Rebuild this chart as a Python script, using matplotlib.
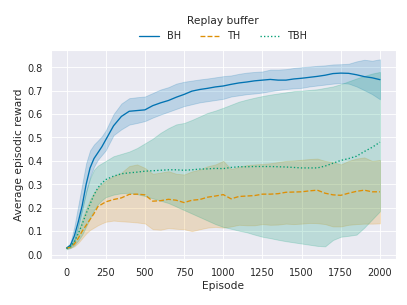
import numpy as np
import matplotlib
matplotlib.use('Agg')
import matplotlib.pyplot as plt
import seaborn as sns

episodes = [0, 25, 50, 75, 100, 125, 150, 175, 200, 225, 250, 300, 350, 400, 450, 500,
            550, 600, 650, 700, 750, 800, 850, 900, 950, 1000, 1050, 1100, 1150, 1200,
            1250, 1300, 1350, 1400, 1450, 1500, 1550, 1600, 1650, 1700, 1750, 1800,
            1850, 1900, 1950, 2000]

bh_mean = [0.028, 0.04, 0.08, 0.14, 0.21, 0.30, 0.37, 0.41, 0.435, 0.46, 0.49, 0.55, 0.59,
           0.612, 0.615, 0.618, 0.636, 0.648, 0.658, 0.672, 0.684, 0.698, 0.705, 0.71,
           0.716, 0.72, 0.727, 0.733, 0.737, 0.742, 0.745, 0.748, 0.745, 0.745, 0.75,
           0.753, 0.757, 0.761, 0.766, 0.773, 0.775, 0.774, 0.768, 0.76, 0.755, 0.747]
bh_upper = [0.03, 0.05, 0.12, 0.21, 0.30, 0.39, 0.445, 0.47, 0.487, 0.505, 0.53, 0.60, 0.645,
            0.668, 0.672, 0.675, 0.69, 0.705, 0.715, 0.73, 0.738, 0.743, 0.748, 0.752,
            0.757, 0.762, 0.765, 0.772, 0.777, 0.78, 0.782, 0.79, 0.79, 0.792, 0.797,
            0.80, 0.803, 0.806, 0.808, 0.812, 0.813, 0.815, 0.825, 0.832, 0.828, 0.834]
bh_lower = [0.026, 0.032, 0.055, 0.12, 0.19, 0.265, 0.33, 0.375, 0.405, 0.425, 0.445, 0.51,
            0.535, 0.555, 0.562, 0.57, 0.585, 0.598, 0.61, 0.622, 0.634, 0.642, 0.65, 0.655,
            0.66, 0.665, 0.675, 0.68, 0.685, 0.688, 0.692, 0.698, 0.703, 0.707, 0.71,
            0.712, 0.718, 0.722, 0.726, 0.73, 0.733, 0.73, 0.718, 0.702, 0.685, 0.663]

th_mean = [0.027, 0.032, 0.045, 0.07, 0.10, 0.125, 0.15, 0.175, 0.205, 0.215, 0.225, 0.235,
           0.242, 0.257, 0.258, 0.255, 0.228, 0.23, 0.236, 0.232, 0.222, 0.232, 0.235, 0.245,
           0.25, 0.256, 0.238, 0.248, 0.25, 0.252, 0.258, 0.258, 0.26, 0.266, 0.267, 0.268,
           0.272, 0.275, 0.262, 0.255, 0.253, 0.262, 0.27, 0.275, 0.268, 0.268]
th_upper = [0.03, 0.038, 0.06, 0.10, 0.15, 0.195, 0.235, 0.265, 0.285, 0.30, 0.315, 0.335,
            0.35, 0.378, 0.385, 0.37, 0.345, 0.35, 0.356, 0.345, 0.342, 0.355, 0.363, 0.377,
            0.385, 0.40, 0.365, 0.375, 0.382, 0.385, 0.387, 0.39, 0.395, 0.40, 0.402, 0.405,
            0.408, 0.41, 0.40, 0.395, 0.385, 0.40, 0.41, 0.415, 0.40, 0.404]
th_lower = [0.025, 0.028, 0.035, 0.05, 0.07, 0.09, 0.105, 0.115, 0.125, 0.133, 0.14, 0.145,
            0.142, 0.14, 0.137, 0.133, 0.108, 0.106, 0.113, 0.11, 0.108, 0.10, 0.108, 0.115,
            0.118, 0.115, 0.12, 0.127, 0.125, 0.125, 0.13, 0.127, 0.128, 0.132, 0.13, 0.132,
            0.135, 0.134, 0.13, 0.12, 0.12, 0.127, 0.13, 0.132, 0.132, 0.133]

tbh_mean = [0.026, 0.035, 0.055, 0.09, 0.13, 0.175, 0.215, 0.255, 0.285, 0.305, 0.32, 0.335,
            0.345, 0.349, 0.352, 0.356, 0.358, 0.36, 0.362, 0.362, 0.36, 0.362, 0.365, 0.366,
            0.368, 0.367, 0.372, 0.375, 0.375, 0.376, 0.376, 0.376, 0.375, 0.374, 0.372,
            0.37, 0.37, 0.37, 0.378, 0.39, 0.402, 0.41, 0.42, 0.44, 0.458, 0.48]
tbh_upper = [0.03, 0.04, 0.07, 0.13, 0.20, 0.27, 0.325, 0.362, 0.38, 0.39, 0.40, 0.42, 0.43,
             0.44, 0.455, 0.475, 0.495, 0.52, 0.54, 0.556, 0.562, 0.575, 0.59, 0.605, 0.615,
             0.627, 0.64, 0.653, 0.662, 0.67, 0.677, 0.683, 0.688, 0.693, 0.698, 0.70, 0.703,
             0.706, 0.712, 0.718, 0.728, 0.74, 0.752, 0.763, 0.773, 0.78]
tbh_lower = [0.022, 0.028, 0.04, 0.06, 0.085, 0.12, 0.155, 0.19, 0.215, 0.232, 0.245, 0.256,
             0.262, 0.264, 0.258, 0.25, 0.24, 0.23, 0.22, 0.205, 0.19, 0.175, 0.16, 0.145,
             0.13, 0.118, 0.11, 0.102, 0.095, 0.085, 0.076, 0.07, 0.063, 0.057, 0.052, 0.047,
             0.042, 0.037, 0.035, 0.062, 0.076, 0.08, 0.085, 0.115, 0.15, 0.185]

sns.set_theme(style='darkgrid', palette='colorblind')
colors = sns.color_palette('colorblind')

fig, ax = plt.subplots(figsize=(6.4, 4.8), dpi=63.6)

ax.plot(episodes, bh_mean, color=colors[0], linestyle='-', label='BH')
ax.fill_between(episodes, bh_lower, bh_upper, color=colors[0], alpha=0.2)
ax.plot(episodes, th_mean, color=colors[1], linestyle='--', label='TH')
ax.fill_between(episodes, th_lower, th_upper, color=colors[1], alpha=0.2)
ax.plot(episodes, tbh_mean, color=colors[2], linestyle=':', label='TBH')
ax.fill_between(episodes, tbh_lower, tbh_upper, color=colors[2], alpha=0.2)

ax.set_xticks([0, 250, 500, 750, 1000, 1250, 1500, 1750, 2000])
ax.set_xlabel('Episode')
ax.set_ylabel('Average episodic reward')

ax.legend(title='Replay buffer', ncol=3, loc='lower center',
          bbox_to_anchor=(0.5, 1.0), frameon=False)

plt.subplots_adjust(left=0.125, right=0.972, bottom=0.151, top=0.836)
plt.savefig('out.png', dpi=63.6)
